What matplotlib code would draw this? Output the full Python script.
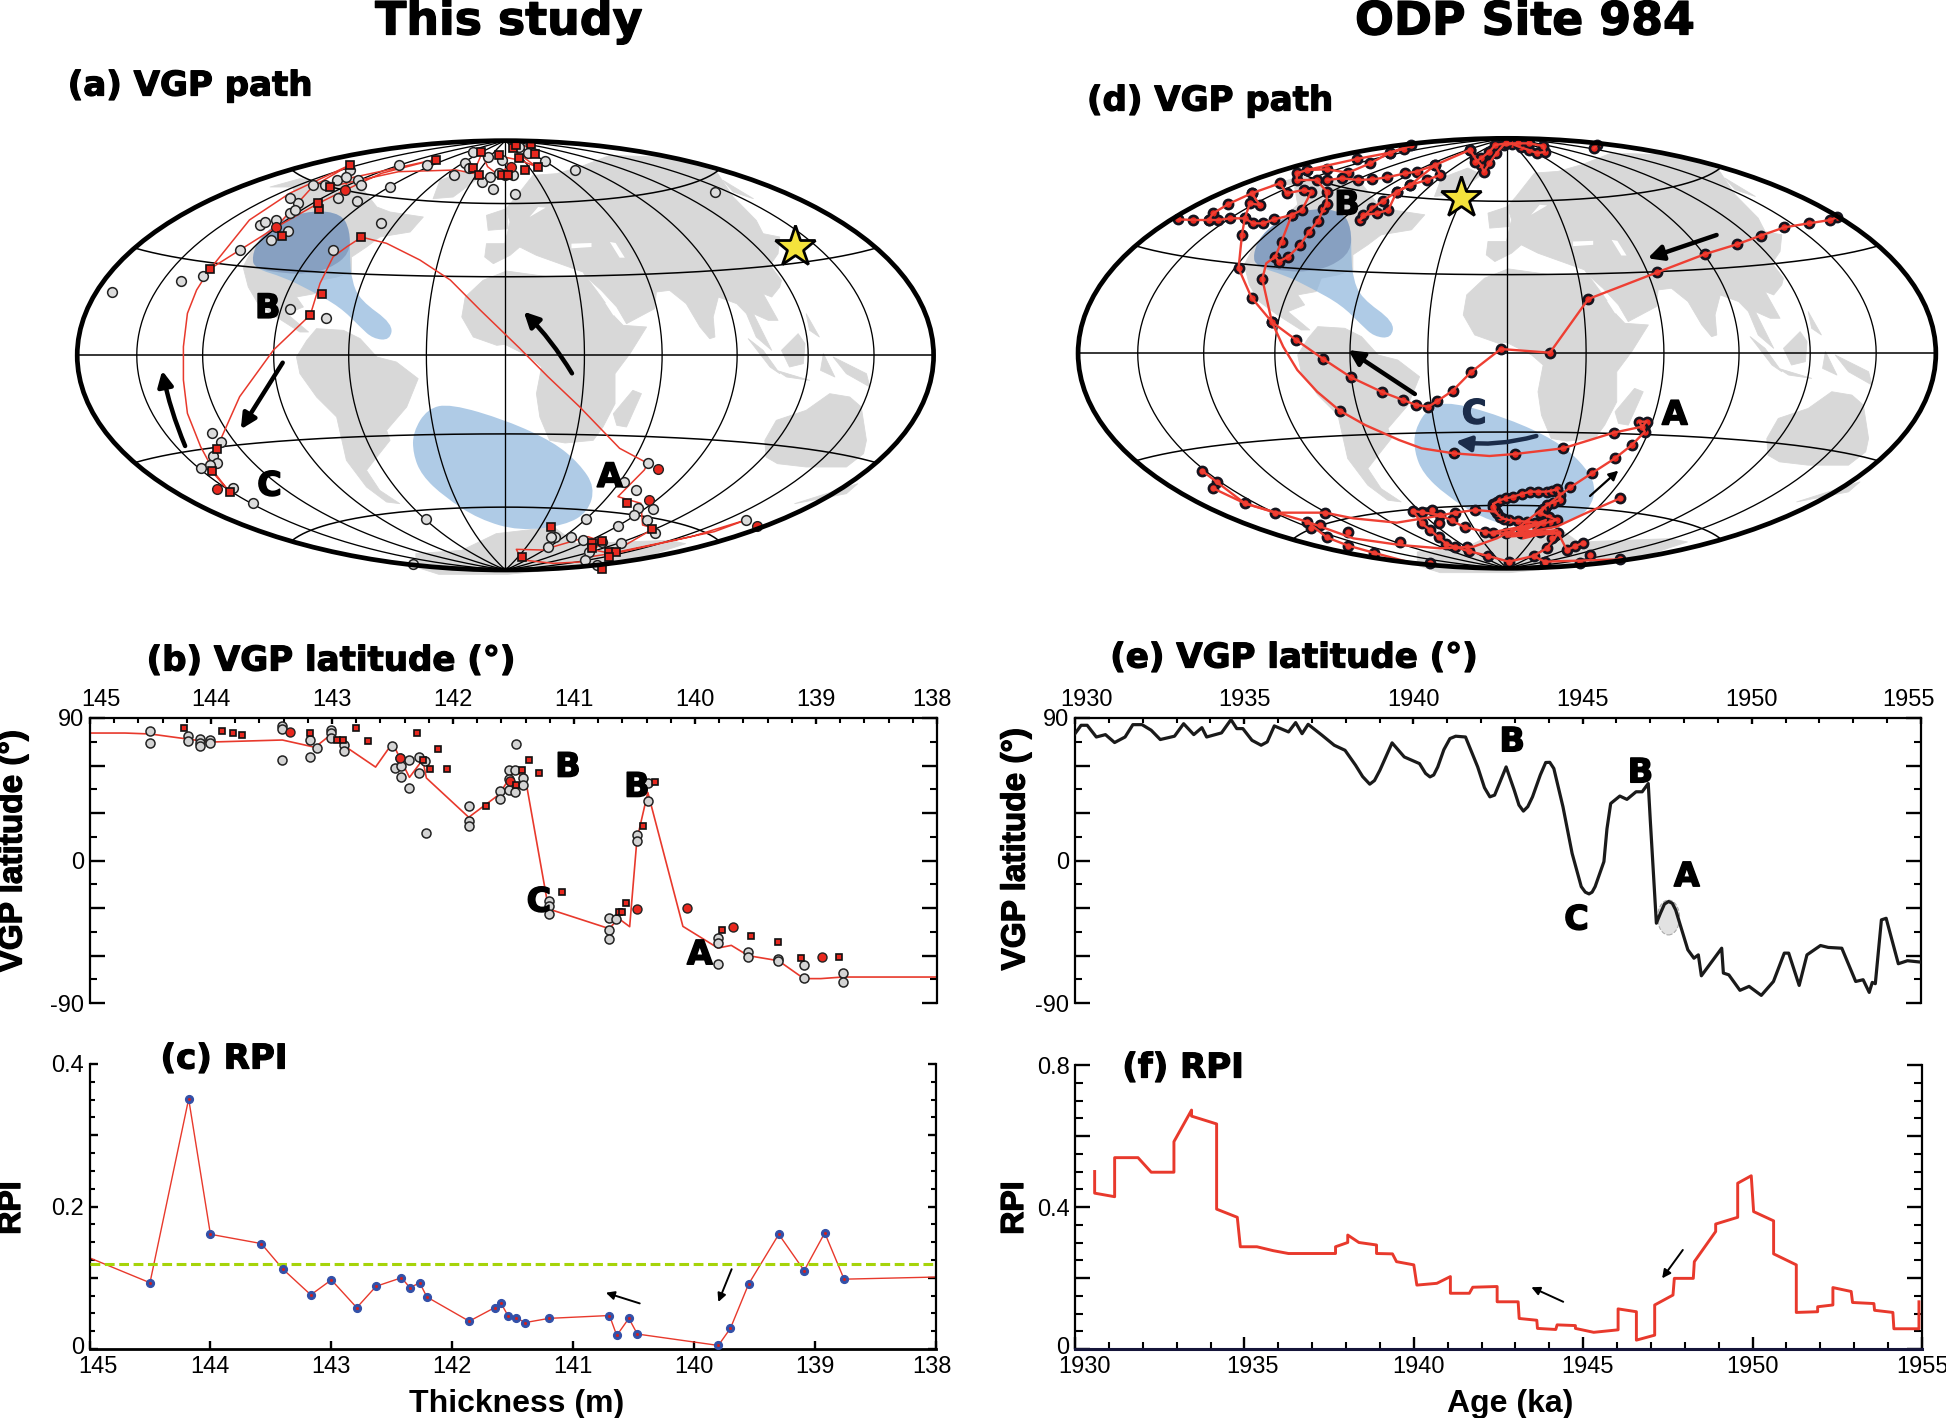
import numpy as np
import matplotlib
matplotlib.use('Agg')
import matplotlib.pyplot as plt
import matplotlib.patheffects as pe
from matplotlib.path import Path
from matplotlib.patches import PathPatch, Polygon, Ellipse
from matplotlib.transforms import ScaledTranslation

plt.rcParams['font.family'] = 'Liberation Sans'
plt.rcParams['axes.unicode_minus'] = False

W, H = 1946, 1418

# ---------- (b) VGP latitude, this study: depth (m), latitude (deg) ----------
b_line_x = [145, 144.71, 144.50, 144.01, 143.41, 143.14, 143.01, 142.90, 142.64, 142.50, 142.36, 142.25, 142.22,
            141.87, 141.62, 141.48, 141.39, 141.21, 140.71, 140.63, 140.54, 140.48, 140.39, 140.10, 139.81, 139.70,
            139.56, 139.31, 139.10, 138.96, 138.78, 138]
b_line_y = [80.5, 80.5, 79.9, 74.8, 76.1, 71.5, 79.5, 72.5, 59, 74.2, 52.5, 63.7, 52.1,
            27.3, 41.6, 58.4, 46.8, -30.6, -43, -36.7, -41.8, 13.2, 43, -41.6, -55.3, -53.6,
            -60.1, -63.3, -74.6, -74.6, -73.6, -73.6]
b_gray_x = [144.50, 144.50, 144.19, 144.19, 144.09, 144.09, 144.09, 144.01, 144.01, 143.41, 143.41, 143.41, 143.18,
            143.18, 143.12, 143.01, 143.01, 143.01, 142.90, 142.90, 142.50, 142.48, 142.44, 142.43, 142.43, 142.36,
            142.36, 142.28, 142.28, 142.23, 142.22, 141.87, 141.87, 141.87, 141.61, 141.61, 141.54, 141.54, 141.54,
            141.49, 141.49, 141.48, 141.42, 141.42, 141.21, 141.21, 141.21, 140.71, 140.71, 140.71, 140.65, 140.48,
            140.48, 140.39, 140.39, 139.81, 139.81, 139.81, 139.56, 139.56, 139.31, 139.31, 139.10, 139.10, 138.78,
            138.78]
b_gray_y = [82, 74.2, 78.4, 75.7, 76.7, 74.2, 72.5, 76.3, 74.2, 84.7, 83.1, 63.7, 76.3,
            65.4, 71.1, 82.6, 80.5, 77.4, 73.2, 69.4, 72.1, 58.4, 64.7, 59.5, 52.7, 63.7,
            45.8, 65.4, 55.3, 63.1, 17.2, 34.6, 25.2, 22, 43.7, 38.8, 56.9, 51.7, 44.3,
            57.4, 43.1, 73.8, 52.1, 47.9, -25.8, -28.9, -33.6, -36.3, -43.7, -49.4, -36.9, 16.3,
            12.5, 48.9, 37.4, -48.9, -52.1, -65.2, -58, -60.9, -62.2, -63.3, -65.8, -74.2, -71,
            -76.9]
b_redc_x = [143.35, 142.44, 141.53, 140.48, 140.07, 139.69, 138.95]
b_redc_y = [80.9, 64.7, 50, -30.6, -30.2, -41.8, -61.2]
b_reds_x = [144.22, 143.91, 143.82, 143.74, 143.18, 142.96, 142.91, 142.80, 142.70, 142.30, 142.25, 142.19, 142.12,
            142.05, 141.73, 141.48, 141.43, 141.37, 141.29, 141.10, 140.63, 140.60, 140.57, 140.43, 140.33, 139.78,
            139.54, 139.31, 139.12, 138.81]
b_reds_y = [83.7, 82, 80.5, 79.5, 80.5, 76.3, 76.3, 83.5, 75.7, 80.3, 63.7, 58, 70.6,
            58, 34.2, 47.5, 56.9, 63.5, 55.1, -20.1, -32.5, -32.5, -26.6, 21.6, 49.6, -44.1,
            -47.9, -51.5, -61.8, -60.9]

# ---------- (c) RPI, this study ----------
c_x = [145, 144.50, 144.18, 144.00, 143.58, 143.40, 143.17, 143.00, 142.79, 142.63, 142.42, 142.35, 142.27, 142.21,
       141.86, 141.65, 141.60, 141.54, 141.47, 141.40, 141.20, 140.70, 140.64, 140.54, 140.47, 139.80, 139.70, 139.55,
       139.30, 139.09, 138.92, 138.76, 138]
c_y = [.128, .093, .351, .161, .148, .112, .076, .097, .058, .088, .100, .086, .093, .073,
       .039, .058, .065, .047, .044, .037, .043, .047, .019, .043, .021, .005, .029, .091,
       .161, .110, .163, .098, .101]
c_mean = 0.12

# ---------- (e) VGP latitude, ODP 984: age (ka), latitude (deg) ----------
e_x = [1930.0, 1930.18, 1930.36, 1930.63, 1930.90, 1931.17, 1931.48, 1931.71, 1931.98, 1932.25, 1932.52, 1932.94,
       1933.21, 1933.51, 1933.75, 1933.89, 1934.33, 1934.61, 1934.78, 1934.96, 1935.23, 1935.50, 1935.68, 1935.89,
       1936.31, 1936.52, 1936.71, 1936.89, 1937.30, 1937.66, 1937.98, 1938.29, 1938.50, 1938.71, 1938.85, 1939.01,
       1939.37, 1939.73, 1940.18, 1940.36, 1940.49, 1940.60, 1940.72, 1940.90, 1941.08, 1941.25, 1941.54, 1941.90,
       1942.10, 1942.26, 1942.40, 1942.74, 1942.98, 1943.12, 1943.25, 1943.38, 1943.52, 1943.75, 1943.91, 1944.03,
       1944.15, 1944.42, 1944.69, 1944.96, 1945.08, 1945.19, 1945.28, 1945.37, 1945.63, 1945.72, 1945.83, 1946.10,
       1946.31, 1946.58, 1946.76, 1946.94, 1947.00, 1947.18, 1947.30, 1947.42, 1947.54, 1947.65, 1947.75, 1948.11,
       1948.29, 1948.42, 1948.51, 1949.11, 1949.16, 1949.32, 1949.65, 1949.92, 1950.28, 1950.64, 1950.96, 1951.09,
       1951.40, 1951.63, 1952.03, 1952.26, 1952.66, 1953.07, 1953.29, 1953.47, 1953.56, 1953.65, 1953.83, 1953.97,
       1954.33, 1954.60, 1955.0]
e_y = [80.1, 85.4, 85.4, 78.0, 79.5, 74.5, 78.0, 85.8, 85.8, 82.3, 76.4, 78.5,
       86.4, 79.5, 83.9, 78.0, 80.6, 89.0, 83.3, 83.3, 75.9, 72.8, 74.9, 85.0,
       81.2, 87.1, 80.1, 86.0, 79.1, 72.8, 69.6, 60.2, 53, 48.2, 50.5, 57.0,
       74.3, 65.4, 61.2, 55, 52.8, 54, 59.1, 70, 77.0, 78.5, 78.0, 59.1,
       46, 40.2, 41.3, 59.1, 44.4, 35, 31.2, 34, 40.2, 54, 61.9, 62,
       58.1, 33.9, 4.5, -16.5, -20, -21.1, -20, -16.5, -0.7, 20, 36.0, 40.7,
       38.6, 43.4, 43.4, 48.6, 25.5, -39.6, -33.3, -27.5, -25.9, -27, -31.2, -56.4,
       -61.7, -59.6, -72.8, -55.4, -71.1, -72.2, -82.0, -79.5, -85.2, -76.4, -58.5, -58.5,
       -78.9, -59.6, -53.7, -54.9, -55.4, -76.4, -75.3, -83.3, -77.0, -77.8, -37.5, -36.5,
       -65.2, -63.3, -64.2]

# ---------- (f) RPI, ODP 984 ----------
f_x = [1930.58, 1930.58, 1931.17, 1931.17, 1931.86, 1932.25, 1932.92, 1932.92, 1933.44, 1933.44, 1934.18, 1934.18,
       1934.79, 1934.88, 1935.37, 1935.85, 1936.30, 1937.69, 1937.69, 1938.05, 1938.05, 1938.38, 1938.90, 1938.90,
       1939.37, 1939.49, 1940.00, 1940.09, 1940.68, 1941.08, 1941.08, 1941.64, 1941.74, 1942.46, 1942.46, 1943.08,
       1943.11, 1943.63, 1943.65, 1944.19, 1944.23, 1944.77, 1944.77, 1945.31, 1946.03, 1946.03, 1946.57, 1946.57,
       1947.11, 1947.11, 1947.65, 1947.69, 1948.25, 1948.28, 1948.91, 1948.91, 1949.56, 1949.56, 1949.96, 1950.03,
       1950.62, 1950.62, 1951.29, 1951.29, 1951.92, 1951.92, 1952.37, 1952.37, 1952.91, 1952.95, 1953.58, 1953.60,
       1954.14, 1954.17, 1954.91, 1954.91]
f_y = [.500, .439, .429, .539, .539, .498, .498, .584, .673, .656, .634, .394,
       .371, .288, .288, .277, .269, .269, .288, .300, .321, .300, .293, .269,
       .268, .246, .237, .180, .185, .204, .157, .157, .174, .176, .133, .133,
       .086, .081, .058, .055, .068, .066, .058, .047, .054, .113, .105, .025,
       .039, .124, .152, .199, .199, .246, .331, .352, .371, .467, .488, .387,
       .361, .268, .237, .103, .105, .119, .124, .173, .162, .131, .128, .109,
       .103, .057, .057, .133]

# ---------- (a) VGP path, this study, in map plane units ----------
a_path1 = [(1195, 1200), (1100, 1250), (980, 1295), (925, 1310), (915, 1325), (860, 1330), (805, 1320), (795, 1288),
           (840, 1290), (920, 1250), (945, 1265), (930, 1290), (960, 1300), (1140, 1235), (1195, 1200)]
a_path2 = [(960, 1300), (1035, 1225), (1015, 1215), (1012, 1150), (972, 1130), (1018, 1050), (1024, 1030), (975, 985),
           (905, 860), (850, 770), (801, 685), (732, 570), (680, 480), (627, 420), (569, 370), (534, 355), (525, 352),
           (500, 380), (476, 410), (453, 490), (436, 585), (372, 690), (313, 830), (282, 950), (275, 990), (270, 1065),
           (295, 1115), (270, 1060), (245, 980), (222, 880), (215, 780), (215, 680), (222, 580), (238, 510), (260, 450),
           (330, 300), (400, 220), (505, 135)]
a_path3 = [(260, 448), (376, 322), (450, 250), (497, 210), (505, 135), (440, 200), (376, 322)]
a_path4 = [(497, 210), (560, 160), (650, 120), (490, 180), (470, 200), (590, 155), (690, 150), (720, 160), (735, 100),
           (745, 140), (760, 160), (785, 140), (770, 110), (800, 120), (830, 140), (790, 90), (820, 75)]
a_gray = [(90, 517), (211, 482), (249, 468), (313, 389), (367, 360), (398, 332), (348, 316), (358, 305), (376, 300),
          (400, 280), (415, 250), (400, 235), (410, 270), (475, 390), (560, 310), (400, 568), (464, 595), (440, 195),
          (462, 195), (483, 180), (505, 150), (498, 170), (520, 180), (525, 195), (485, 235), (518, 242), (575, 200),
          (590, 135), (640, 135), (686, 165), (705, 130), (712, 145), (720, 95), (736, 185), (755, 208), (750, 170),
          (793, 222), (765, 160), (790, 165), (845, 122), (897, 150), (1141, 216), (775, 165), (745, 110), (770, 120),
          (800, 80), (815, 100), (265, 940), (281, 965), (266, 1008), (274, 1030), (262, 1035), (246, 1045),
          (302, 1105), (337, 1148), (1024, 1030), (982, 1085), (1004, 1110), (1033, 1168), (1007, 1165), (1000, 1185),
          (1022, 1200), (972, 1217), (1037, 1240), (916, 1198), (637, 1197), (863, 1250), (855, 1252), (850, 1280),
          (890, 1250), (912, 1260), (945, 1265), (978, 1268), (922, 1295), (915, 1320), (935, 1335), (615, 1332),
          (1195, 1200)]
a_redc = [(376, 322), (497, 210), (785, 140), (1042, 1048), (1027, 1140), (1215, 1218), (274, 1107)]
a_reds = [(261, 448), (386, 348), (452, 268), (450, 250), (470, 200), (505, 135), (655, 120), (733, 97), (720, 143),
          (730, 165), (770, 165), (780, 165), (810, 150), (833, 140), (765, 105), (790, 85), (800, 115), (827, 102),
          (820, 72), (795, 75), (525, 352), (456, 523), (436, 585), (274, 988), (264, 1053), (297, 1115), (987, 1149),
          (1032, 1227), (855, 1220), (805, 1310), (927, 1268), (927, 1285), (945, 1262), (957, 1295), (968, 1297),
          (956, 1312), (944, 1348)]

# ---------- (d) VGP path, ODP 984, in map plane units ----------
d_run1 = [(1375, 292), (1363, 300), (1325, 310), (1282, 322), (1240, 347), (1198, 373), (1142, 402), (1057, 457),
          (935, 537), (867, 698), (780, 687), (727, 757), (695, 812), (668, 843), (652, 860), (630, 855), (607, 840),
          (570, 816), (515, 772), (465, 716), (418, 660), (375, 606), (339, 533), (316, 445), (322, 345), (327, 295),
          (336, 250), (354, 255), (339, 220)]
d_north_a = [(209, 298), (236, 300), (263, 300), (280, 300), (301, 295), (327, 295), (342, 310), (360, 310), (379, 298),
             (410, 285), (428, 270), (445, 215), (431, 210), (401, 220), (389, 190), (339, 220), (298, 252), (271, 280),
             (263, 300)]
d_north_b = [(410, 285), (392, 365), (381, 410), (387, 425), (404, 410), (425, 375), (441, 335), (457, 302), (466, 268),
             (472, 252), (472, 215), (454, 180), (419, 180), (419, 160), (437, 150), (472, 148), (510, 158), (549, 130),
             (584, 98), (608, 87), (622, 75), (584, 98), (525, 117), (437, 150)]
d_north_c = [(472, 180), (499, 175), (528, 180), (553, 178), (579, 172), (611, 160), (631, 155), (664, 135), (673, 165),
             (649, 180), (620, 195), (596, 215), (572, 242), (552, 265), (531, 300), (537, 285), (561, 280), (581, 270),
             (596, 215), (620, 195), (664, 135), (725, 90)]
d_pole = [(725, 90), (735, 115), (745, 135), (750, 155), (760, 130), (772, 100), (785, 75), (800, 72), (815, 82),
          (830, 90), (845, 100), (858, 95), (855, 78), (830, 70), (810, 70), (790, 70), (770, 75), (760, 95),
          (745, 115), (735, 125)]
d_short = [(950, 75), (945, 85)]
d_rise = [(903, 1102), (941, 1060), (982, 1015), (1012, 975), (1035, 935), (1025, 905), (1038, 905), (1030, 920),
          (980, 938), (890, 985), (805, 1002), (697, 1000), (495, 872), (375, 606), (358, 477)]
d_loop = [(767, 1152), (773, 1146), (779, 1140), (790, 1135), (802, 1130), (817, 1122), (832, 1115), (846, 1115),
          (861, 1115), (870, 1112), (879, 1108), (885, 1125), (885, 1140), (872, 1148), (861, 1155), (855, 1168),
          (850, 1180), (865, 1190), (879, 1200), (867, 1206), (855, 1210), (840, 1208), (826, 1205), (810, 1203),
          (794, 1200), (785, 1196), (779, 1190), (773, 1180), (770, 1170), (767, 1160)]
d_south_dots = [(251, 1052), (277, 1085), (271, 1105), (327, 1150), (381, 1178), (437, 1205), (445, 1225), (460, 1215),
                (472, 1252), (510, 1235), (510, 1277), (555, 1298), (602, 1265), (469, 1178), (655, 1330), (625, 1173),
                (640, 1175), (658, 1170), (673, 1185), (699, 1178), (640, 1210), (670, 1210), (693, 1200), (655, 1230),
                (670, 1252), (684, 1272), (699, 1280), (720, 1280), (723, 1292), (717, 1222), (752, 1235), (767, 1240),
                (758, 1308), (794, 1325), (838, 1308), (861, 1285), (882, 1240), (897, 1290), (911, 1278), (926, 1268),
                (938, 1305), (991, 1318), (920, 1330), (858, 1325), (735, 1170), (991, 1135), (790, 1240), (815, 1240),
                (850, 1235), (870, 1255)]
# line only stretches, dots are in the lists above
d_curves = [
    [(991, 1135), (930, 1180), (879, 1220), (814, 1240), (767, 1240), (717, 1222), (673, 1185), (625, 1173)],
    [(251, 1052), (327, 1150), (381, 1178), (469, 1178), (519, 1195), (596, 1208), (661, 1190), (699, 1178), (735, 1170),
     (770, 1175)],
    [(437, 1205), (519, 1255), (602, 1275), (673, 1285), (732, 1280), (773, 1255), (802, 1230)],
    [(271, 1105), (327, 1150), (437, 1205), (472, 1252), (510, 1277), (555, 1298), (614, 1325)],
    [(991, 1318), (858, 1325), (838, 1308), (861, 1285), (882, 1240), (897, 1290), (926, 1268)],
    [(625, 1173), (640, 1210), (655, 1230), (670, 1252), (684, 1272), (699, 1280), (720, 1292), (758, 1308), (794, 1325),
     (838, 1308)],
    [(770, 1235), (850, 1210), (800, 1245), (880, 1230), (820, 1255), (860, 1200), (810, 1230), (885, 1240), (790, 1250),
     (903, 1102)],
    [(805, 1002), (760, 1008), (697, 1000), (640, 985), (600, 960), (540, 915), (495, 872), (455, 815), (420, 750),
     (395, 680), (375, 606), (358, 477), (365, 430), (381, 410)],
]

# ---------- world map outlines and VGP clusters, in the plane of map (a) ----------
eurasia = [(775, 370), (784, 305), (777, 265), (792, 235), (824, 165), (865, 160), (906, 140), (958, 105), (1040, 110),
           (1100, 130), (1144, 155), (1173, 230), (1213, 300), (1225, 340), (1254, 350), (1251, 400), (1237, 435),
           (1257, 480), (1254, 500), (1240, 530), (1225, 520), (1251, 600), (1234, 600), (1208, 580), (1240, 690),
           (1213, 650), (1196, 580), (1179, 550), (1147, 530), (1138, 590), (1141, 650), (1132, 655), (1115, 620),
           (1091, 550), (1062, 510), (1039, 515), (1036, 565), (987, 610), (970, 560), (943, 510), (917, 470), (911, 455),
           (830, 405), (801, 380), (784, 405), (755, 430), (740, 410), (743, 370)]
africa = [(700, 590), (706, 530), (737, 480), (778, 452), (853, 470), (917, 470), (943, 530), (967, 590), (981, 615),
          (1022, 620), (993, 700), (967, 760), (967, 850), (946, 920), (929, 960), (880, 968), (853, 960), (836, 890),
          (830, 820), (839, 740), (819, 710), (775, 672), (761, 675), (720, 650)]
s_america = [(412, 710), (430, 660), (447, 625), (494, 630), (523, 655), (552, 710), (586, 725), (624, 775), (604, 860),
             (569, 930), (575, 960), (552, 1010), (534, 1050), (557, 1110), (592, 1150), (569, 1145), (534, 1100),
             (499, 1020), (482, 890), (447, 830), (418, 760)]
n_america = [(366, 200), (418, 175), (465, 185), (511, 170), (552, 260), (575, 275), (633, 290), (610, 335), (557, 350),
             (534, 380), (508, 410), (508, 455), (482, 470), (453, 480), (444, 520), (412, 530), (424, 560), (395, 580),
             (433, 635), (418, 635), (377, 590), (345, 550), (328, 500), (319, 440), (337, 380), (366, 330), (412, 260),
             (406, 200)]
greenland = [(650, 235), (662, 180), (708, 150), (732, 170), (685, 230)]
uk = [(743, 285), (778, 265), (781, 325), (746, 330)]
antarctica = [(620, 1300), (700, 1290), (760, 1240), (860, 1220), (900, 1270), (1060, 1260), (1090, 1270), (1000, 1320),
              (880, 1345), (780, 1362), (660, 1362), (620, 1340)]
australia = [(1228, 960), (1248, 900), (1300, 870), (1341, 820), (1376, 830), (1396, 860), (1405, 960), (1400, 1000),
             (1370, 1040), (1300, 1040), (1250, 1030), (1230, 1010)]
sumatra = [(1199, 655), (1225, 690), (1254, 760), (1237, 740)]
java = [(1248, 750), (1306, 780), (1266, 770)]
borneo = [(1257, 690), (1286, 640), (1298, 670), (1295, 730), (1271, 740)]
luzon = [(1300, 580), (1323, 650), (1306, 630)]
guinea = [(1347, 710), (1405, 760), (1411, 800), (1370, 760)]
sulawesi = [(1330, 700), (1350, 770), (1325, 750)]
kamchatka = [(1155, 180), (1208, 235), (1173, 215)]
zealand = [(1280, 1150), (1390, 1090), (1370, 1120)]
madagascar = [(964, 880), (998, 810), (1013, 820), (987, 920), (970, 915)]
lands = [eurasia, africa, s_america, n_america, greenland, uk, antarctica, australia, sumatra, java, borneo, luzon, guinea,
         sulawesi, kamchatka, zealand, madagascar]
black_sea = [(891, 370), (926, 368), (926, 380), (891, 384)]
baltic = [(833, 260), (846, 262), (818, 290)]
caspian = [(958, 365), (968, 368), (984, 412), (975, 412)]
red_sea = [(950, 548), (956, 548), (970, 585), (964, 585)]
waters = [black_sea, baltic, caspian, red_sea]
blob_north = [(334, 410), (348, 350), (389, 295), (441, 270), (490, 280), (505, 330), (505, 410), (508, 480), (523, 540),
              (580, 610), (575, 660), (545, 655), (523, 620), (488, 560), (436, 510), (389, 470), (340, 445)]
blob_overlap = [(334, 410), (348, 350), (389, 295), (441, 270), (490, 280), (505, 330), (505, 400), (470, 445), (430, 460),
                (395, 460), (340, 445)]
blob_south = [(615, 1000), (615, 935), (640, 865), (680, 850), (778, 900), (860, 965), (905, 1030), (932, 1100), (920, 1175),
              (880, 1215), (800, 1232), (730, 1197), (670, 1130), (630, 1065)]

RED = '#e8281e'
LINE_RED = '#e8392c'
HEAD = 'DejaVu Sans'
HEAVY = [pe.withStroke(linewidth=.9, foreground='k')]


def px_axes(left, top, right, bottom):
    return fig.add_axes([left / W, 1 - bottom / H, (right - left) / W, (bottom - top) / H])


def fig_text(x, y, s, **kw):
    fig.text(x / W, 1 - y / H, s, va='center', ha='center', **kw)


def heading(x, y, s, size=24.5):
    fig_text(x, y, s, family=HEAD, weight='bold', fontsize=size, path_effects=HEAVY)


def letter(ax, x, y, s, color='k'):
    ax.text(x, y, s, family=HEAD, weight='bold', fontsize=24, ha='center', va='center', zorder=8, color=color,
            path_effects=[pe.withStroke(linewidth=1.1, foreground=color)])


def smooth_patch(points, **kw):
    # closed quadratic spline through the midpoints of the outline
    pts = np.array(points, float)
    mids = (pts + np.roll(pts, -1, axis=0)) / 2
    verts = [mids[-1]]
    codes = [Path.MOVETO]
    for p, m in zip(pts, mids):
        verts += [p, m]
        codes += [Path.CURVE3, Path.CURVE3]
    return PathPatch(Path(verts, codes), **kw)


def hammer(lon, lat):
    lon = np.radians(lon) / 2
    lat = np.radians(lat)
    d = np.sqrt(1 + np.cos(lat) * np.cos(lon))
    return np.cos(lat) * np.sin(lon) / d, np.sin(lat) / d


def draw_base(ax, cx, sx, cy, sy):
    # same land and graticule on both maps, only the plane differs
    def conv(pts):
        p = np.array(pts, float)
        return np.c_[cx + (p[:, 0] - 776) / 746 * sx, cy + (p[:, 1] - 705) / 644 * sy]

    for land in lands:
        ax.add_patch(Polygon(conv(land), closed=True, fc='#d8d8d8', ec='#d8d8d8', lw=.6, joinstyle='round', zorder=1))
    for water in waters:
        ax.add_patch(Polygon(conv(water), closed=True, fc='white', ec='none', zorder=1.5))
    ax.add_patch(smooth_patch(conv(blob_north), fc='#8db5dc', ec='none', alpha=.7, zorder=2))
    ax.add_patch(smooth_patch(conv(blob_south), fc='#8db5dc', ec='none', alpha=.7, zorder=2))
    ax.add_patch(smooth_patch(conv(blob_overlap), fc='#7087ad', ec='none', alpha=.55, zorder=2))

    lat = np.linspace(-90, 90, 181)
    for lon in np.arange(-150, 151, 30):
        u, v = hammer(lon, lat)
        ax.plot(cx + u * sx, cy - v * sy, color='k', lw=.95, zorder=3)
    lon = np.linspace(-180, 180, 181)
    for par in [-60, -30, 0, 30, 60]:
        u, v = hammer(lon, par)
        ax.plot(cx + u * sx, cy - v * sy, color='k', lw=1.1, zorder=3)
    ax.add_patch(Ellipse((cx, cy), 2 * sx, 2 * sy, fc='none', ec='k', lw=3.4, zorder=6))


def big_arrow(ax, tail, head, lw=3.2, color='k', rad=0.0, hw=.45, hl=.9):
    ax.annotate('', xy=head, xytext=tail, zorder=7,
                arrowprops=dict(arrowstyle='-|>,head_width=%g,head_length=%g' % (hw, hl), lw=lw, color=color,
                                shrinkA=0, shrinkB=0, connectionstyle='arc3,rad=%g' % rad))


def xy(pts):
    p = np.array(pts, float)
    return p[:, 0], p[:, 1]


def series_axes(ax, sides, ylen, xlen):
    for s in ['top', 'bottom', 'left', 'right']:
        ax.spines[s].set_visible(s in sides)
        ax.spines[s].set_linewidth(1.6)
    ax.tick_params(which='both', direction='in', labelsize=17, right=True)
    ax.tick_params(axis='y', which='major', length=ylen[0], width=1.7, pad=4)
    ax.tick_params(axis='y', which='minor', length=ylen[1], width=1.5)
    ax.tick_params(axis='x', which='major', length=xlen[0], width=1.7, pad=5)
    ax.tick_params(axis='x', which='minor', length=xlen[1], width=1.5)


def shift_label(lab, dx, dy=0):
    lab.set_transform(lab.get_transform() + ScaledTranslation(dx / 100, dy / 100, fig.dpi_scale_trans))


fig = plt.figure(figsize=(W / 100, H / 100), dpi=100)

# ---------- map (a) ----------
ax = px_axes(60, 120, 960, 590)
ax.set_xlim(0, 1568)
ax.set_ylim(1410, 0)
ax.axis('off')
draw_base(ax, 776, 746, 706, 644)
for path in [a_path1, a_path2, a_path3, a_path4]:
    ax.plot(*xy(path), color=LINE_RED, lw=1.1, zorder=4)
ax.plot(*xy(a_gray), 'o', ms=7, mfc='#dcdcdc', mec='#222222', mew=1.1, zorder=5)
ax.plot(*xy(a_redc), 'o', ms=7, mfc=RED, mec='#222222', mew=1, zorder=5)
ax.plot(*xy(a_reds), 's', ms=5.2, mfc=RED, mec='#111111', mew=1.2, zorder=5)
ax.plot(1280, 382, '*', ms=31, mfc='#f4e33c', mec='k', mew=2, zorder=7)
letter(ax, 362, 565, 'B')
letter(ax, 958, 1072, 'A')
letter(ax, 365, 1098, 'C')
big_arrow(ax, (892, 760), (808, 575), rad=.06)
big_arrow(ax, (388, 728), (315, 928))
big_arrow(ax, (218, 978), (178, 752), rad=-.05)

# ---------- map (d) ----------
ax = px_axes(1060, 120, 1946, 590)
ax.set_xlim(0, 1568)
ax.set_ylim(1410, 0)
ax.axis('off')
draw_base(ax, 791, 759, 700, 645)
dot = dict(marker='o', ms=6.6, mfc=RED, mec='#14141e', mew=1.9, linestyle='none', zorder=4)
for path in [d_run1, d_north_a, d_north_b, d_north_c, d_pole, d_short, d_rise, d_loop, d_south_dots]:
    ax.plot(*xy(path), **dot)
for path in [d_run1, d_north_a, d_north_b, d_north_c, d_pole, d_short, d_rise[:11], d_loop + d_loop[:1]]:
    ax.plot(*xy(path), color='#ee3f33', lw=1.7, zorder=5)
for path in d_curves:
    ax.plot(*xy(path), color='#ee3f33', lw=1.7, zorder=5)
ax.plot(*xy(d_south_dots), 'o', ms=3.5, mfc='#ee3f33', mec='none', zorder=5)
ax.plot(710, 235, '*', ms=31, mfc='#f4e33c', mec='k', mew=2, zorder=7)
letter(ax, 508, 255, 'B')
letter(ax, 1088, 885, 'A')
letter(ax, 733, 882, 'C', '#1b2c4a')
big_arrow(ax, (1162, 345), (1040, 415))
big_arrow(ax, (628, 822), (510, 690))
big_arrow(ax, (843, 948), (700, 965), color='#1b2c4a', rad=-.1)
big_arrow(ax, (938, 1128), (988, 1052), lw=1.6, hw=.28, hl=.55)

# ---------- (b) ----------
ax = px_axes(90, 718, 937, 1003)
ax.plot(b_line_x, b_line_y, color=LINE_RED, lw=1.2, zorder=2)
ax.plot(b_gray_x, b_gray_y, 'o', ms=6.5, mfc='#d4d4d4', mec='#222222', mew=1.1, zorder=3)
ax.plot(b_redc_x, b_redc_y, 'o', ms=6.5, mfc=RED, mec='#222222', mew=1, zorder=4)
ax.plot(b_reds_x, b_reds_y, 's', ms=5, mfc=RED, mec='#111111', mew=1.2, zorder=4)
ax.set_xlim(145, 138)
ax.set_ylim(-90, 90)
ax.set_xticks(np.arange(145, 137, -1))
ax.set_xticks(np.arange(145, 138, -.2), minor=True)
ax.set_yticks(np.arange(-90, 91, 30))
ax.set_yticklabels(['-90', '', '', '0', '', '', '90'])
ax.set_yticks(np.arange(-90, 91, 15), minor=True)
ax.xaxis.tick_top()
series_axes(ax, ['top', 'left', 'right'], (10.5, 5), (4, 3.5))
shift_label(ax.get_xticklabels()[0], 11)
shift_label(ax.get_xticklabels()[-1], -5)
letter(ax, 141.05, 59, 'B')
letter(ax, 140.48, 46.4, 'B')
letter(ax, 141.29, -26.2, 'C')
letter(ax, 139.96, -59.5, 'A')

# ---------- (c) ----------
ax = px_axes(89.5, 1064, 936, 1349)
ax.plot(c_x, c_y, color=LINE_RED, lw=1, zorder=2)
ax.axhline(c_mean, color='#a6d40a', lw=2.2, ls=(0, (3.2, 1.5)), zorder=3)
ax.plot(c_x[1:-1], c_y[1:-1], 'o', ms=5.6, mfc='#3350a8', mec='#3350a8', zorder=4)
ax.plot(c_x[1:-1], c_y[1:-1], 'o', ms=2.2, mfc='#d02020', mec='none', zorder=5)
ax.set_xlim(145, 138)
ax.set_ylim(0, .4)
ax.set_xticks(np.arange(145, 137, -1))
ax.set_yticks(np.arange(0, .401, .1))
ax.set_yticklabels(['0', '', '0.2', '', '0.4'])
ax.set_yticks(np.arange(0, .401, .025), minor=True)
series_axes(ax, ['bottom', 'left', 'right'], (6, 3.5), (5.5, 3))
ax.spines['bottom'].set_linewidth(2)
shift_label(ax.get_xticklabels()[0], 8)
shift_label(ax.get_xticklabels()[-1], -4)
shift_label(ax.get_yticklabels()[0], 0, 4)
big_arrow(ax, (140.45, .064), (140.73, .079), lw=1.4, hw=.25, hl=.5)
big_arrow(ax, (139.69, .112), (139.80, .066), lw=1.4, hw=.25, hl=.5)

# ---------- (e) ----------
ax = px_axes(1075, 718, 1921, 1003)
ax.add_patch(Ellipse((1947.54, -36), .65, 22, fc='#e2e2e2', ec='#aaaaaa', ls='--', lw=.8, zorder=1))
ax.plot(e_x, e_y, color='#1a1a1a', lw=2.3, zorder=3)
ax.set_xlim(1930, 1955)
ax.set_ylim(-90, 90)
ax.set_xticks(np.arange(1930, 1956, 5))
ax.set_xticks(np.arange(1930, 1956, 1), minor=True)
ax.set_yticks(np.arange(-90, 91, 30))
ax.set_yticklabels(['-90', '', '', '0', '', '', '90'])
ax.set_yticks(np.arange(-90, 91, 15), minor=True)
ax.xaxis.tick_top()
series_axes(ax, ['top', 'left', 'right'], (10.5, 5), (4, 3.5))
shift_label(ax.get_xticklabels()[0], 12)
shift_label(ax.get_xticklabels()[-1], -13)
letter(ax, 1942.92, 75, 'B')
letter(ax, 1946.71, 55.4, 'B')
letter(ax, 1944.82, -37.5, 'C')
letter(ax, 1948.08, -10.2, 'A')

# ---------- (f) ----------
ax = px_axes(1075, 1065, 1922, 1349)
ax.plot(f_x, f_y, color=LINE_RED, lw=2.1, zorder=3)
ax.set_xlim(1930, 1955)
ax.set_ylim(0, .8)
ax.set_xticks(np.arange(1930, 1956, 5))
ax.set_xticks(np.arange(1930, 1956, 1), minor=True)
ax.set_yticks(np.arange(0, .801, .2))
ax.set_yticklabels(['0', '', '0.4', '', '0.8'])
ax.set_yticks(np.arange(0, .801, .05), minor=True)
series_axes(ax, ['bottom', 'left', 'right'], (10.5, 5.5), (8.5, 5))
ax.spines['bottom'].set_linewidth(2.2)
ax.spines['bottom'].set_color('#15153a')
shift_label(ax.get_xticklabels()[0], 9)
shift_label(ax.get_xticklabels()[1], 8)
shift_label(ax.get_xticklabels()[2], 5)
shift_label(ax.get_xticklabels()[3], 4)
shift_label(ax.get_yticklabels()[0], 0, 4)
big_arrow(ax, (1944.41, .133), (1943.47, .174), lw=1.4, hw=.25, hl=.5)
big_arrow(ax, (1947.94, .279), (1947.33, .199), lw=1.4, hw=.25, hl=.5)

# ---------- headings and axis titles ----------
heading(509, 22, 'This study', 33)
heading(1525, 22, 'ODP Site 984', 33)
heading(190, 86, '(a) VGP path')
heading(1210, 101, '(d) VGP path')
heading(331, 661, '(b) VGP latitude (°)')
heading(224, 1059, '(c) RPI')
heading(1294, 658, '(e) VGP latitude (°)')
heading(1183, 1068, '(f) RPI')
fig_text(517, 1404, 'Thickness (m)', weight='bold', fontsize=23)
fig_text(1510, 1404, 'Age (ka)', weight='bold', fontsize=23)
fig_text(13, 851, 'VGP latitude (°)', weight='bold', fontsize=24, rotation=90, path_effects=HEAVY)
fig_text(1016, 849, 'VGP latitude (°)', weight='bold', fontsize=24, rotation=90, path_effects=HEAVY)
fig_text(12, 1208, 'RPI', weight='bold', fontsize=23, rotation=90, path_effects=HEAVY)
fig_text(1015, 1208, 'RPI', weight='bold', fontsize=23, rotation=90, path_effects=HEAVY)

fig.savefig('out.png', dpi=100)
